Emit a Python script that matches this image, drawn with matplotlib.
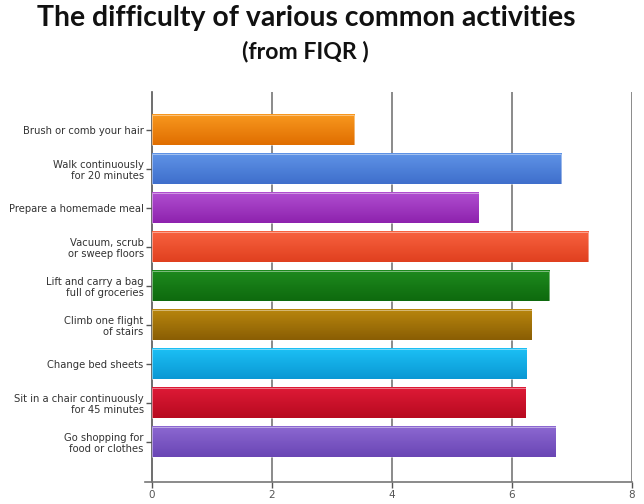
import matplotlib.pyplot as plt
import numpy as np
from matplotlib.colors import LinearSegmentedColormap

activities = [
    "Brush or comb your hair",
    "Walk continuously\nfor 20 minutes",
    "Prepare a homemade meal",
    "Vacuum, scrub\nor sweep floors",
    "Lift and carry a bag\nfull of groceries",
    "Climb one flight\nof stairs",
    "Change bed sheets",
    "Sit in a chair continuously\nfor 45 minutes",
    "Go shopping for\nfood or clothes",
]
scores = [3.37, 6.82, 5.45, 7.27, 6.62, 6.33, 6.25, 6.23, 6.73]
# (top colour, bottom colour) for the gradient of each bar
colors_top = ["#F8981F", "#5F93E6", "#B04FD0", "#F8623F", "#1E8A1E",
              "#B8860E", "#1CC0F5", "#DE1A36", "#8C68D2"]
colors_bot = ["#E06E00", "#3F6FCC", "#8E22AE", "#E0401F", "#0E6A0E",
              "#8A5E04", "#0A98D4", "#B80A20", "#6A46B4"]
xticks = [0, 2, 4, 6, 8]

fig = plt.figure(figsize=(6.44, 5.04), dpi=100)
ax = fig.add_axes([0.236, 0.044, 0.745, 0.773])

bar_h = 0.79
y = np.arange(len(activities))
grad = np.linspace(0, 1, 50).reshape(-1, 1)
for i, (v, ct, cb) in enumerate(zip(scores, colors_top, colors_bot)):
    cmap = LinearSegmentedColormap.from_list("g", [ct, cb])
    ax.imshow(grad, cmap=cmap, aspect="auto", origin="upper",
              extent=[0, v, i + bar_h / 2, i - bar_h / 2], zorder=3)
    ax.barh(i, v, height=bar_h, facecolor="none", edgecolor="#ffffff",
            linewidth=0.6, alpha=0.5, zorder=4)

ax.set_xlim(0, 8)
ax.set_ylim(len(activities) - 1 + 1.02, -0.97)
ax.set_xticks(xticks)
ax.set_yticks(y)
ax.set_yticklabels(activities, fontsize=7.2, color="#333333",
                   linespacing=1.1)
ax.tick_params(axis="y", length=4, width=1, color="#555555", pad=2)
ax.tick_params(axis="x", length=4, width=1, color="#555555",
               labelsize=7.5, labelcolor="#555555", pad=2)
for g in xticks[1:]:
    ax.axvline(g, color="#8a8a8a", linewidth=1.4, zorder=1)

for s in ["top", "right"]:
    ax.spines[s].set_visible(False)
ax.spines["left"].set_color("#555555")
ax.spines["left"].set_linewidth(1.2)
ax.spines["bottom"].set_color("#777777")
ax.spines["bottom"].set_linewidth(1.2)
ax.spines["bottom"].set_bounds(-0.12, 8)
ax.spines["bottom"].set_zorder(5)

fig.text(0.475, 0.964, "The difficulty of various common activities",
         ha="center", va="center", fontsize=20.4, fontweight="bold",
         family="Lato", color="#111111")
fig.text(0.474, 0.897, "(from FIQR )", ha="center", va="center",
         fontsize=16.6, fontweight="bold", family="Lato", color="#111111")

fig.savefig("out.png", dpi=100)
